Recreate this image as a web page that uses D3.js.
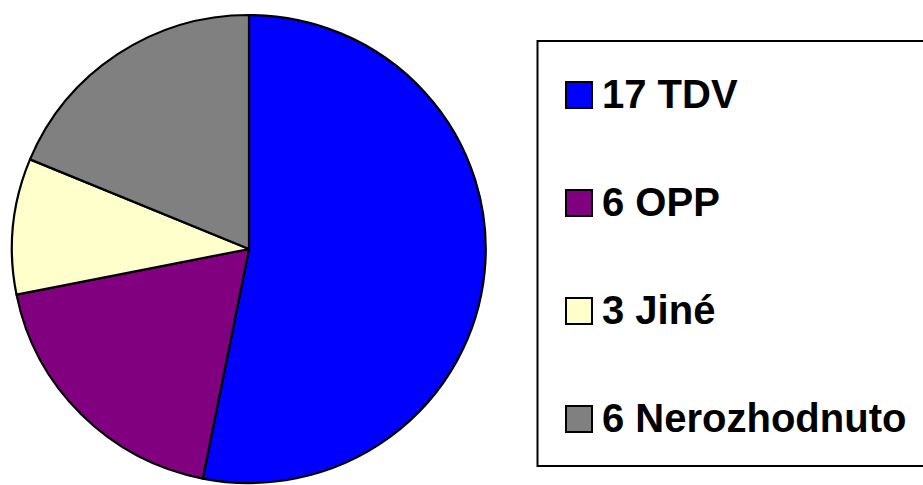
<!DOCTYPE html>
<html>
<head>
<meta charset="utf-8">
<script src="https://cdn.jsdelivr.net/npm/d3@7"></script>
<style>
  body { margin: 0; background: #fff; }
  svg { display: block; }
</style>
</head>
<body>
<div id="chart"></div>
<script>
var labels = ["TDV", "OPP", "Jiné", "Nerozhodnuto"];
var values = [17, 6, 3, 6];
var colors = ["#0000FF", "#800080", "#FFFFCC", "#808080"];

var svg = d3.select("#chart")
        .append("svg")
        .attr("width", 923)
        .attr("height", 485);

// pie, slightly wider than tall like the original
var pie = d3.pie().sort(null).value(function (d) { return d; });
var arc = d3.arc().innerRadius(0).outerRadius(1);

var pieG = svg.append("g")
        .attr("transform", "translate(249,249) scale(237,234)");

pieG.selectAll("path")
        .data(pie(values))
        .enter()
        .append("path")
        .attr("d", arc)
        .attr("fill", function (d, i) { return colors[i]; })
        .attr("stroke", "#000")
        .attr("stroke-width", 2.2)
        .attr("stroke-linejoin", "round")
        .attr("vector-effect", "non-scaling-stroke");

// legend
var legend = svg.append("g");

legend.append("rect")
        .attr("x", 537.5)
        .attr("y", 41)
        .attr("width", 400)
        .attr("height", 425)
        .attr("fill", "#fff")
        .attr("stroke", "#000")
        .attr("stroke-width", 2);

var y = d3.scalePoint()
        .domain(d3.range(labels.length))
        .range([108, 432]);

var items = legend.selectAll("g.item")
        .data(labels)
        .enter()
        .append("g")
        .attr("class", "item")
        .attr("transform", function (d, i) { return "translate(0," + y(i) + ")"; });

items.append("rect")
        .attr("x", 566)
        .attr("y", -26)
        .attr("width", 26)
        .attr("height", 26)
        .attr("fill", function (d, i) { return colors[i]; })
        .attr("stroke", "#000")
        .attr("stroke-width", 2);

items.append("text")
        .attr("x", 602)
        .attr("y", 0)
        .attr("font-family", "Arial, 'Liberation Sans', sans-serif")
        .attr("font-weight", "bold")
        .attr("font-size", "40px")
        .attr("fill", "#000")
        .text(function (d, i) { return values[i] + " " + d; });
</script>
</body>
</html>
